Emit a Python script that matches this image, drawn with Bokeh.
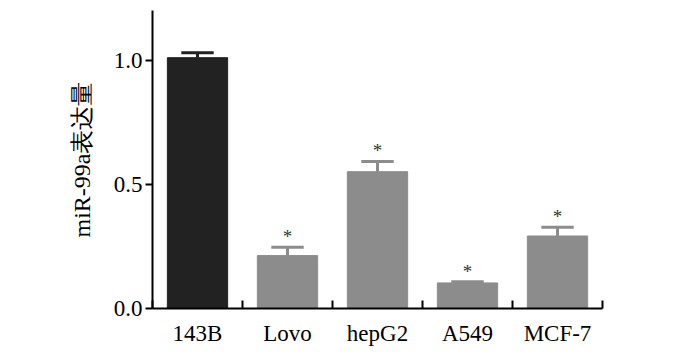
from bokeh.plotting import figure
from bokeh.models import ColumnDataSource, FixedTicker, Range1d, NumeralTickFormatter
from bokeh.core.properties import value
from bokeh.embed import file_html
from bokeh.resources import INLINE

# data
categories = ["143B", "Lovo", "hepG2", "A549", "MCF-7"]
expression = [1.01, 0.213, 0.551, 0.103, 0.292]
error_up = [0.02, 0.034, 0.041, 0.005, 0.035]
significant = ["", "*", "*", "*", "*"]
y_ticks = [0.0, 0.5, 1.0]

bar_colors = ["#222222", "#8c8c8c", "#8c8c8c", "#8c8c8c", "#8c8c8c"]

n = len(categories)
centers = [i + 0.5 for i in range(n)]
tops = [v + e for v, e in zip(expression, error_up)]
cap_half = 0.18

src = ColumnDataSource(dict(
    x=centers, top=expression, etop=tops, color=bar_colors,
    cl=[c - cap_half for c in centers], cr=[c + cap_half for c in centers],
    star=significant,
))

p = figure(frame_width=450, frame_height=298, output_backend="svg", toolbar_location=None,
           x_range=Range1d(0, n), y_range=Range1d(0, 1.2),
           min_border_left=152, min_border_right=82,
           min_border_top=10, min_border_bottom=30)
p.outline_line_color = None
p.grid.visible = False
p.background_fill_color = "white"
p.border_fill_color = "white"

p.vbar(x="x", top="top", bottom=0, width=0.67, color="color", source=src)
p.segment(x0="x", y0="top", x1="x", y1="etop", line_color="color", line_width=3, source=src)
p.segment(x0="cl", y0="etop", x1="cr", y1="etop", line_color="color", line_width=3, source=src)
p.text(x="x", y="etop", text="star", text_align="center", text_baseline="bottom",
       y_offset=0, text_font=value("Liberation Serif"), text_font_size="19px",
       text_color="#333333", source=src)

font = "Liberation Serif"
# x axis
xa = p.xaxis[0]
xa.ticker = FixedTicker(ticks=centers, minor_ticks=list(range(0, n + 1)))
xa.major_label_overrides = {c: lab for c, lab in zip(centers, categories)}
xa.major_tick_line_color = None
xa.minor_tick_in = 8
xa.minor_tick_out = 0
xa.minor_tick_line_width = 2
xa.minor_tick_line_color = "black"
xa.axis_line_width = 2
xa.major_label_text_font = font
xa.major_label_text_font_size = "23px"
xa.major_label_standoff = 6
xa.major_label_text_color = "black"

# y axis
ya = p.yaxis[0]
ya.ticker = FixedTicker(ticks=y_ticks, minor_ticks=[])
ya.formatter = NumeralTickFormatter(format="0.0")
ya.major_tick_in = 0
ya.major_tick_out = 7
ya.major_tick_line_width = 2
ya.axis_line_width = 2
ya.major_label_text_font = font
ya.major_label_text_font_size = "23px"
ya.major_label_standoff = 3
ya.major_label_text_color = "black"
ya.axis_label = "miR-99a表达量"
ya.axis_label_text_font = "Liberation Serif"
ya.axis_label_text_font_size = "24px"
ya.axis_label_text_font_style = "normal"
ya.axis_label_standoff = 16
ya.axis_label_text_color = "black"

open("out.html", "w").write(file_html(p, INLINE))
